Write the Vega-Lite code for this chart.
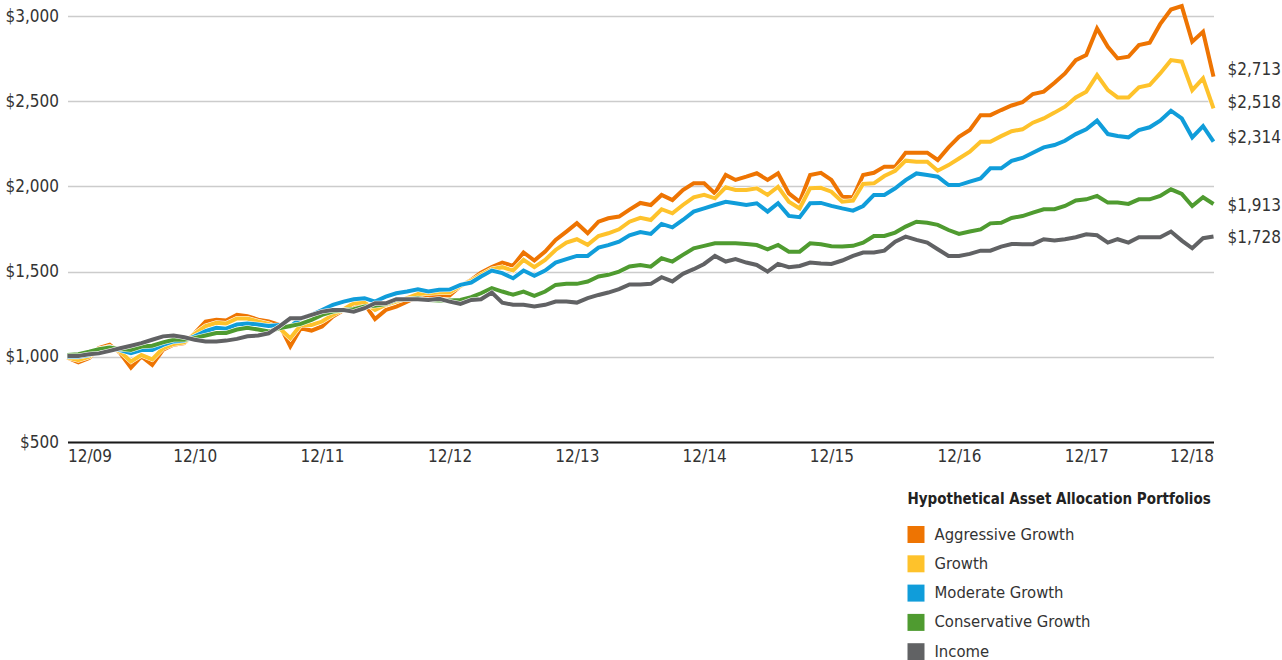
{
  "$schema": "https://vega.github.io/schema/vega-lite/v6.json",
  "width": 1146,
  "height": 426,
  "autosize": "none",
  "padding": {"left": 67.5, "top": 16, "right": 68, "bottom": 218},
  "background": "white",
  "config": {
    "view": {"stroke": null},
    "font": "DejaVu Sans Condensed"
  },
  "datasets": {
    "labels": [
      {"date": "2018/12/01", "series": "Aggressive Growth", "label": "$2,713", "value": 2713},
      {"date": "2018/12/01", "series": "Growth", "label": "$2,518", "value": 2518},
      {"date": "2018/12/01", "series": "Moderate Growth", "label": "$2,314", "value": 2314},
      {"date": "2018/12/01", "series": "Conservative Growth", "label": "$1,913", "value": 1913},
      {"date": "2018/12/01", "series": "Income", "label": "$1,728", "value": 1728}
    ],
    "lines": [
      {"date":"2009/12/01","series":"Aggressive Growth","value":995},
      {"date":"2010/01/01","series":"Aggressive Growth","value":967},
      {"date":"2010/02/01","series":"Aggressive Growth","value":992},
      {"date":"2010/03/01","series":"Aggressive Growth","value":1051},
      {"date":"2010/04/01","series":"Aggressive Growth","value":1071},
      {"date":"2010/05/01","series":"Aggressive Growth","value":1022},
      {"date":"2010/06/01","series":"Aggressive Growth","value":936},
      {"date":"2010/07/01","series":"Aggressive Growth","value":1002},
      {"date":"2010/08/01","series":"Aggressive Growth","value":953},
      {"date":"2010/09/01","series":"Aggressive Growth","value":1041},
      {"date":"2010/10/01","series":"Aggressive Growth","value":1071},
      {"date":"2010/11/01","series":"Aggressive Growth","value":1080},
      {"date":"2010/12/01","series":"Aggressive Growth","value":1139},
      {"date":"2011/01/01","series":"Aggressive Growth","value":1207},
      {"date":"2011/02/01","series":"Aggressive Growth","value":1217},
      {"date":"2011/03/01","series":"Aggressive Growth","value":1213},
      {"date":"2011/04/01","series":"Aggressive Growth","value":1246},
      {"date":"2011/05/01","series":"Aggressive Growth","value":1238},
      {"date":"2011/06/01","series":"Aggressive Growth","value":1218},
      {"date":"2011/07/01","series":"Aggressive Growth","value":1207},
      {"date":"2011/08/01","series":"Aggressive Growth","value":1187},
      {"date":"2011/09/01","series":"Aggressive Growth","value":1062},
      {"date":"2011/10/01","series":"Aggressive Growth","value":1168},
      {"date":"2011/11/01","series":"Aggressive Growth","value":1154},
      {"date":"2011/12/01","series":"Aggressive Growth","value":1178},
      {"date":"2012/01/01","series":"Aggressive Growth","value":1236},
      {"date":"2012/02/01","series":"Aggressive Growth","value":1275},
      {"date":"2012/03/01","series":"Aggressive Growth","value":1305},
      {"date":"2012/04/01","series":"Aggressive Growth","value":1310},
      {"date":"2012/05/01","series":"Aggressive Growth","value":1221},
      {"date":"2012/06/01","series":"Aggressive Growth","value":1275},
      {"date":"2012/07/01","series":"Aggressive Growth","value":1295},
      {"date":"2012/08/01","series":"Aggressive Growth","value":1324},
      {"date":"2012/09/01","series":"Aggressive Growth","value":1353},
      {"date":"2012/10/01","series":"Aggressive Growth","value":1353},
      {"date":"2012/11/01","series":"Aggressive Growth","value":1363},
      {"date":"2012/12/01","series":"Aggressive Growth","value":1360},
      {"date":"2013/01/01","series":"Aggressive Growth","value":1416},
      {"date":"2013/02/01","series":"Aggressive Growth","value":1451},
      {"date":"2013/03/01","series":"Aggressive Growth","value":1494},
      {"date":"2013/04/01","series":"Aggressive Growth","value":1526},
      {"date":"2013/05/01","series":"Aggressive Growth","value":1553},
      {"date":"2013/06/01","series":"Aggressive Growth","value":1534},
      {"date":"2013/07/01","series":"Aggressive Growth","value":1612},
      {"date":"2013/08/01","series":"Aggressive Growth","value":1565},
      {"date":"2013/09/01","series":"Aggressive Growth","value":1618},
      {"date":"2013/10/01","series":"Aggressive Growth","value":1686},
      {"date":"2013/11/01","series":"Aggressive Growth","value":1735},
      {"date":"2013/12/01","series":"Aggressive Growth","value":1784},
      {"date":"2014/01/01","series":"Aggressive Growth","value":1725},
      {"date":"2014/02/01","series":"Aggressive Growth","value":1793},
      {"date":"2014/03/01","series":"Aggressive Growth","value":1813},
      {"date":"2014/04/01","series":"Aggressive Growth","value":1823},
      {"date":"2014/05/01","series":"Aggressive Growth","value":1864},
      {"date":"2014/06/01","series":"Aggressive Growth","value":1903},
      {"date":"2014/07/01","series":"Aggressive Growth","value":1891},
      {"date":"2014/08/01","series":"Aggressive Growth","value":1950},
      {"date":"2014/09/01","series":"Aggressive Growth","value":1920},
      {"date":"2014/10/01","series":"Aggressive Growth","value":1979},
      {"date":"2014/11/01","series":"Aggressive Growth","value":2018},
      {"date":"2014/12/01","series":"Aggressive Growth","value":2018},
      {"date":"2015/01/01","series":"Aggressive Growth","value":1959},
      {"date":"2015/02/01","series":"Aggressive Growth","value":2067},
      {"date":"2015/03/01","series":"Aggressive Growth","value":2038},
      {"date":"2015/04/01","series":"Aggressive Growth","value":2057},
      {"date":"2015/05/01","series":"Aggressive Growth","value":2077},
      {"date":"2015/06/01","series":"Aggressive Growth","value":2038},
      {"date":"2015/07/01","series":"Aggressive Growth","value":2077},
      {"date":"2015/08/01","series":"Aggressive Growth","value":1959},
      {"date":"2015/09/01","series":"Aggressive Growth","value":1910},
      {"date":"2015/10/01","series":"Aggressive Growth","value":2067},
      {"date":"2015/11/01","series":"Aggressive Growth","value":2080},
      {"date":"2015/12/01","series":"Aggressive Growth","value":2038},
      {"date":"2016/01/01","series":"Aggressive Growth","value":1940},
      {"date":"2016/02/01","series":"Aggressive Growth","value":1936},
      {"date":"2016/03/01","series":"Aggressive Growth","value":2067},
      {"date":"2016/04/01","series":"Aggressive Growth","value":2080},
      {"date":"2016/05/01","series":"Aggressive Growth","value":2116},
      {"date":"2016/06/01","series":"Aggressive Growth","value":2116},
      {"date":"2016/07/01","series":"Aggressive Growth","value":2198},
      {"date":"2016/08/01","series":"Aggressive Growth","value":2198},
      {"date":"2016/09/01","series":"Aggressive Growth","value":2198},
      {"date":"2016/10/01","series":"Aggressive Growth","value":2155},
      {"date":"2016/11/01","series":"Aggressive Growth","value":2229},
      {"date":"2016/12/01","series":"Aggressive Growth","value":2291},
      {"date":"2017/01/01","series":"Aggressive Growth","value":2331},
      {"date":"2017/02/01","series":"Aggressive Growth","value":2418},
      {"date":"2017/03/01","series":"Aggressive Growth","value":2418},
      {"date":"2017/04/01","series":"Aggressive Growth","value":2448},
      {"date":"2017/05/01","series":"Aggressive Growth","value":2475},
      {"date":"2017/06/01","series":"Aggressive Growth","value":2494},
      {"date":"2017/07/01","series":"Aggressive Growth","value":2542},
      {"date":"2017/08/01","series":"Aggressive Growth","value":2556},
      {"date":"2017/09/01","series":"Aggressive Growth","value":2608},
      {"date":"2017/10/01","series":"Aggressive Growth","value":2663},
      {"date":"2017/11/01","series":"Aggressive Growth","value":2741},
      {"date":"2017/12/01","series":"Aggressive Growth","value":2771},
      {"date":"2018/01/01","series":"Aggressive Growth","value":2927},
      {"date":"2018/02/01","series":"Aggressive Growth","value":2819},
      {"date":"2018/03/01","series":"Aggressive Growth","value":2751},
      {"date":"2018/04/01","series":"Aggressive Growth","value":2761},
      {"date":"2018/05/01","series":"Aggressive Growth","value":2829},
      {"date":"2018/06/01","series":"Aggressive Growth","value":2843},
      {"date":"2018/07/01","series":"Aggressive Growth","value":2952},
      {"date":"2018/08/01","series":"Aggressive Growth","value":3038},
      {"date":"2018/09/01","series":"Aggressive Growth","value":3058},
      {"date":"2018/10/01","series":"Aggressive Growth","value":2849},
      {"date":"2018/11/01","series":"Aggressive Growth","value":2907},
      {"date":"2018/12/01","series":"Aggressive Growth","value":2644},

      {"date":"2009/12/01","series":"Growth","value":995},
      {"date":"2010/01/01","series":"Growth","value":980},
      {"date":"2010/02/01","series":"Growth","value":1000},
      {"date":"2010/03/01","series":"Growth","value":1045},
      {"date":"2010/04/01","series":"Growth","value":1060},
      {"date":"2010/05/01","series":"Growth","value":1030},
      {"date":"2010/06/01","series":"Growth","value":973},
      {"date":"2010/07/01","series":"Growth","value":1010},
      {"date":"2010/08/01","series":"Growth","value":985},
      {"date":"2010/09/01","series":"Growth","value":1050},
      {"date":"2010/10/01","series":"Growth","value":1075},
      {"date":"2010/11/01","series":"Growth","value":1085},
      {"date":"2010/12/01","series":"Growth","value":1135},
      {"date":"2011/01/01","series":"Growth","value":1180},
      {"date":"2011/02/01","series":"Growth","value":1200},
      {"date":"2011/03/01","series":"Growth","value":1195},
      {"date":"2011/04/01","series":"Growth","value":1225},
      {"date":"2011/05/01","series":"Growth","value":1225},
      {"date":"2011/06/01","series":"Growth","value":1207},
      {"date":"2011/07/01","series":"Growth","value":1193},
      {"date":"2011/08/01","series":"Growth","value":1168},
      {"date":"2011/09/01","series":"Growth","value":1109},
      {"date":"2011/10/01","series":"Growth","value":1187},
      {"date":"2011/11/01","series":"Growth","value":1187},
      {"date":"2011/12/01","series":"Growth","value":1207},
      {"date":"2012/01/01","series":"Growth","value":1246},
      {"date":"2012/02/01","series":"Growth","value":1279},
      {"date":"2012/03/01","series":"Growth","value":1314},
      {"date":"2012/04/01","series":"Growth","value":1318},
      {"date":"2012/05/01","series":"Growth","value":1275},
      {"date":"2012/06/01","series":"Growth","value":1305},
      {"date":"2012/07/01","series":"Growth","value":1324},
      {"date":"2012/08/01","series":"Growth","value":1344},
      {"date":"2012/09/01","series":"Growth","value":1369},
      {"date":"2012/10/01","series":"Growth","value":1373},
      {"date":"2012/11/01","series":"Growth","value":1377},
      {"date":"2012/12/01","series":"Growth","value":1377},
      {"date":"2013/01/01","series":"Growth","value":1416},
      {"date":"2013/02/01","series":"Growth","value":1447},
      {"date":"2013/03/01","series":"Growth","value":1481},
      {"date":"2013/04/01","series":"Growth","value":1514},
      {"date":"2013/05/01","series":"Growth","value":1526},
      {"date":"2013/06/01","series":"Growth","value":1506},
      {"date":"2013/07/01","series":"Growth","value":1569},
      {"date":"2013/08/01","series":"Growth","value":1526},
      {"date":"2013/09/01","series":"Growth","value":1569},
      {"date":"2013/10/01","series":"Growth","value":1627},
      {"date":"2013/11/01","series":"Growth","value":1670},
      {"date":"2013/12/01","series":"Growth","value":1690},
      {"date":"2014/01/01","series":"Growth","value":1657},
      {"date":"2014/02/01","series":"Growth","value":1709},
      {"date":"2014/03/01","series":"Growth","value":1725},
      {"date":"2014/04/01","series":"Growth","value":1748},
      {"date":"2014/05/01","series":"Growth","value":1793},
      {"date":"2014/06/01","series":"Growth","value":1816},
      {"date":"2014/07/01","series":"Growth","value":1803},
      {"date":"2014/08/01","series":"Growth","value":1866},
      {"date":"2014/09/01","series":"Growth","value":1842},
      {"date":"2014/10/01","series":"Growth","value":1891},
      {"date":"2014/11/01","series":"Growth","value":1936},
      {"date":"2014/12/01","series":"Growth","value":1950},
      {"date":"2015/01/01","series":"Growth","value":1930},
      {"date":"2015/02/01","series":"Growth","value":1995},
      {"date":"2015/03/01","series":"Growth","value":1979},
      {"date":"2015/04/01","series":"Growth","value":1979},
      {"date":"2015/05/01","series":"Growth","value":1989},
      {"date":"2015/06/01","series":"Growth","value":1950},
      {"date":"2015/07/01","series":"Growth","value":1998},
      {"date":"2015/08/01","series":"Growth","value":1910},
      {"date":"2015/09/01","series":"Growth","value":1871},
      {"date":"2015/10/01","series":"Growth","value":1989},
      {"date":"2015/11/01","series":"Growth","value":1992},
      {"date":"2015/12/01","series":"Growth","value":1969},
      {"date":"2016/01/01","series":"Growth","value":1910},
      {"date":"2016/02/01","series":"Growth","value":1916},
      {"date":"2016/03/01","series":"Growth","value":2014},
      {"date":"2016/04/01","series":"Growth","value":2018},
      {"date":"2016/05/01","series":"Growth","value":2061},
      {"date":"2016/06/01","series":"Growth","value":2092},
      {"date":"2016/07/01","series":"Growth","value":2151},
      {"date":"2016/08/01","series":"Growth","value":2145},
      {"date":"2016/09/01","series":"Growth","value":2145},
      {"date":"2016/10/01","series":"Growth","value":2092},
      {"date":"2016/11/01","series":"Growth","value":2125},
      {"date":"2016/12/01","series":"Growth","value":2164},
      {"date":"2017/01/01","series":"Growth","value":2204},
      {"date":"2017/02/01","series":"Growth","value":2262},
      {"date":"2017/03/01","series":"Growth","value":2262},
      {"date":"2017/04/01","series":"Growth","value":2295},
      {"date":"2017/05/01","series":"Growth","value":2324},
      {"date":"2017/06/01","series":"Growth","value":2335},
      {"date":"2017/07/01","series":"Growth","value":2374},
      {"date":"2017/08/01","series":"Growth","value":2399},
      {"date":"2017/09/01","series":"Growth","value":2433},
      {"date":"2017/10/01","series":"Growth","value":2468},
      {"date":"2017/11/01","series":"Growth","value":2522},
      {"date":"2017/12/01","series":"Growth","value":2556},
      {"date":"2018/01/01","series":"Growth","value":2653},
      {"date":"2018/02/01","series":"Growth","value":2565},
      {"date":"2018/03/01","series":"Growth","value":2522},
      {"date":"2018/04/01","series":"Growth","value":2522},
      {"date":"2018/05/01","series":"Growth","value":2581},
      {"date":"2018/06/01","series":"Growth","value":2595},
      {"date":"2018/07/01","series":"Growth","value":2663},
      {"date":"2018/08/01","series":"Growth","value":2741},
      {"date":"2018/09/01","series":"Growth","value":2732},
      {"date":"2018/10/01","series":"Growth","value":2565},
      {"date":"2018/11/01","series":"Growth","value":2634},
      {"date":"2018/12/01","series":"Growth","value":2458},

      {"date":"2009/12/01","series":"Moderate Growth","value":1000},
      {"date":"2010/01/01","series":"Moderate Growth","value":1000},
      {"date":"2010/02/01","series":"Moderate Growth","value":1010},
      {"date":"2010/03/01","series":"Moderate Growth","value":1040},
      {"date":"2010/04/01","series":"Moderate Growth","value":1055},
      {"date":"2010/05/01","series":"Moderate Growth","value":1040},
      {"date":"2010/06/01","series":"Moderate Growth","value":1022},
      {"date":"2010/07/01","series":"Moderate Growth","value":1040},
      {"date":"2010/08/01","series":"Moderate Growth","value":1040},
      {"date":"2010/09/01","series":"Moderate Growth","value":1070},
      {"date":"2010/10/01","series":"Moderate Growth","value":1090},
      {"date":"2010/11/01","series":"Moderate Growth","value":1095},
      {"date":"2010/12/01","series":"Moderate Growth","value":1120},
      {"date":"2011/01/01","series":"Moderate Growth","value":1150},
      {"date":"2011/02/01","series":"Moderate Growth","value":1170},
      {"date":"2011/03/01","series":"Moderate Growth","value":1165},
      {"date":"2011/04/01","series":"Moderate Growth","value":1190},
      {"date":"2011/05/01","series":"Moderate Growth","value":1195},
      {"date":"2011/06/01","series":"Moderate Growth","value":1190},
      {"date":"2011/07/01","series":"Moderate Growth","value":1181},
      {"date":"2011/08/01","series":"Moderate Growth","value":1187},
      {"date":"2011/09/01","series":"Moderate Growth","value":1178},
      {"date":"2011/10/01","series":"Moderate Growth","value":1226},
      {"date":"2011/11/01","series":"Moderate Growth","value":1246},
      {"date":"2011/12/01","series":"Moderate Growth","value":1275},
      {"date":"2012/01/01","series":"Moderate Growth","value":1305},
      {"date":"2012/02/01","series":"Moderate Growth","value":1324},
      {"date":"2012/03/01","series":"Moderate Growth","value":1338},
      {"date":"2012/04/01","series":"Moderate Growth","value":1344},
      {"date":"2012/05/01","series":"Moderate Growth","value":1324},
      {"date":"2012/06/01","series":"Moderate Growth","value":1353},
      {"date":"2012/07/01","series":"Moderate Growth","value":1373},
      {"date":"2012/08/01","series":"Moderate Growth","value":1383},
      {"date":"2012/09/01","series":"Moderate Growth","value":1396},
      {"date":"2012/10/01","series":"Moderate Growth","value":1383},
      {"date":"2012/11/01","series":"Moderate Growth","value":1393},
      {"date":"2012/12/01","series":"Moderate Growth","value":1395},
      {"date":"2013/01/01","series":"Moderate Growth","value":1422},
      {"date":"2013/02/01","series":"Moderate Growth","value":1436},
      {"date":"2013/03/01","series":"Moderate Growth","value":1471},
      {"date":"2013/04/01","series":"Moderate Growth","value":1506},
      {"date":"2013/05/01","series":"Moderate Growth","value":1491},
      {"date":"2013/06/01","series":"Moderate Growth","value":1461},
      {"date":"2013/07/01","series":"Moderate Growth","value":1506},
      {"date":"2013/08/01","series":"Moderate Growth","value":1475},
      {"date":"2013/09/01","series":"Moderate Growth","value":1506},
      {"date":"2013/10/01","series":"Moderate Growth","value":1553},
      {"date":"2013/11/01","series":"Moderate Growth","value":1573},
      {"date":"2013/12/01","series":"Moderate Growth","value":1592},
      {"date":"2014/01/01","series":"Moderate Growth","value":1592},
      {"date":"2014/02/01","series":"Moderate Growth","value":1641},
      {"date":"2014/03/01","series":"Moderate Growth","value":1655},
      {"date":"2014/04/01","series":"Moderate Growth","value":1676},
      {"date":"2014/05/01","series":"Moderate Growth","value":1713},
      {"date":"2014/06/01","series":"Moderate Growth","value":1732},
      {"date":"2014/07/01","series":"Moderate Growth","value":1721},
      {"date":"2014/08/01","series":"Moderate Growth","value":1780},
      {"date":"2014/09/01","series":"Moderate Growth","value":1760},
      {"date":"2014/10/01","series":"Moderate Growth","value":1803},
      {"date":"2014/11/01","series":"Moderate Growth","value":1852},
      {"date":"2014/12/01","series":"Moderate Growth","value":1871},
      {"date":"2015/01/01","series":"Moderate Growth","value":1891},
      {"date":"2015/02/01","series":"Moderate Growth","value":1910},
      {"date":"2015/03/01","series":"Moderate Growth","value":1901},
      {"date":"2015/04/01","series":"Moderate Growth","value":1891},
      {"date":"2015/05/01","series":"Moderate Growth","value":1901},
      {"date":"2015/06/01","series":"Moderate Growth","value":1852},
      {"date":"2015/07/01","series":"Moderate Growth","value":1901},
      {"date":"2015/08/01","series":"Moderate Growth","value":1827},
      {"date":"2015/09/01","series":"Moderate Growth","value":1819},
      {"date":"2015/10/01","series":"Moderate Growth","value":1901},
      {"date":"2015/11/01","series":"Moderate Growth","value":1903},
      {"date":"2015/12/01","series":"Moderate Growth","value":1886},
      {"date":"2016/01/01","series":"Moderate Growth","value":1871},
      {"date":"2016/02/01","series":"Moderate Growth","value":1858},
      {"date":"2016/03/01","series":"Moderate Growth","value":1885},
      {"date":"2016/04/01","series":"Moderate Growth","value":1950},
      {"date":"2016/05/01","series":"Moderate Growth","value":1950},
      {"date":"2016/06/01","series":"Moderate Growth","value":1989},
      {"date":"2016/07/01","series":"Moderate Growth","value":2037},
      {"date":"2016/08/01","series":"Moderate Growth","value":2076},
      {"date":"2016/09/01","series":"Moderate Growth","value":2067},
      {"date":"2016/10/01","series":"Moderate Growth","value":2057},
      {"date":"2016/11/01","series":"Moderate Growth","value":2008},
      {"date":"2016/12/01","series":"Moderate Growth","value":2008},
      {"date":"2017/01/01","series":"Moderate Growth","value":2028},
      {"date":"2017/02/01","series":"Moderate Growth","value":2047},
      {"date":"2017/03/01","series":"Moderate Growth","value":2106},
      {"date":"2017/04/01","series":"Moderate Growth","value":2106},
      {"date":"2017/05/01","series":"Moderate Growth","value":2150},
      {"date":"2017/06/01","series":"Moderate Growth","value":2167},
      {"date":"2017/07/01","series":"Moderate Growth","value":2198},
      {"date":"2017/08/01","series":"Moderate Growth","value":2229},
      {"date":"2017/09/01","series":"Moderate Growth","value":2243},
      {"date":"2017/10/01","series":"Moderate Growth","value":2268},
      {"date":"2017/11/01","series":"Moderate Growth","value":2307},
      {"date":"2017/12/01","series":"Moderate Growth","value":2335},
      {"date":"2018/01/01","series":"Moderate Growth","value":2386},
      {"date":"2018/02/01","series":"Moderate Growth","value":2307},
      {"date":"2018/03/01","series":"Moderate Growth","value":2296},
      {"date":"2018/04/01","series":"Moderate Growth","value":2288},
      {"date":"2018/05/01","series":"Moderate Growth","value":2331},
      {"date":"2018/06/01","series":"Moderate Growth","value":2347},
      {"date":"2018/07/01","series":"Moderate Growth","value":2386},
      {"date":"2018/08/01","series":"Moderate Growth","value":2444},
      {"date":"2018/09/01","series":"Moderate Growth","value":2399},
      {"date":"2018/10/01","series":"Moderate Growth","value":2288},
      {"date":"2018/11/01","series":"Moderate Growth","value":2354},
      {"date":"2018/12/01","series":"Moderate Growth","value":2263},

      {"date":"2009/12/01","series":"Conservative Growth","value":1010},
      {"date":"2010/01/01","series":"Conservative Growth","value":1015},
      {"date":"2010/02/01","series":"Conservative Growth","value":1030},
      {"date":"2010/03/01","series":"Conservative Growth","value":1045},
      {"date":"2010/04/01","series":"Conservative Growth","value":1055},
      {"date":"2010/05/01","series":"Conservative Growth","value":1045},
      {"date":"2010/06/01","series":"Conservative Growth","value":1040},
      {"date":"2010/07/01","series":"Conservative Growth","value":1060},
      {"date":"2010/08/01","series":"Conservative Growth","value":1065},
      {"date":"2010/09/01","series":"Conservative Growth","value":1085},
      {"date":"2010/10/01","series":"Conservative Growth","value":1100},
      {"date":"2010/11/01","series":"Conservative Growth","value":1100},
      {"date":"2010/12/01","series":"Conservative Growth","value":1110},
      {"date":"2011/01/01","series":"Conservative Growth","value":1125},
      {"date":"2011/02/01","series":"Conservative Growth","value":1140},
      {"date":"2011/03/01","series":"Conservative Growth","value":1140},
      {"date":"2011/04/01","series":"Conservative Growth","value":1160},
      {"date":"2011/05/01","series":"Conservative Growth","value":1170},
      {"date":"2011/06/01","series":"Conservative Growth","value":1160},
      {"date":"2011/07/01","series":"Conservative Growth","value":1148},
      {"date":"2011/08/01","series":"Conservative Growth","value":1168},
      {"date":"2011/09/01","series":"Conservative Growth","value":1181},
      {"date":"2011/10/01","series":"Conservative Growth","value":1193},
      {"date":"2011/11/01","series":"Conservative Growth","value":1217},
      {"date":"2011/12/01","series":"Conservative Growth","value":1246},
      {"date":"2012/01/01","series":"Conservative Growth","value":1265},
      {"date":"2012/02/01","series":"Conservative Growth","value":1275},
      {"date":"2012/03/01","series":"Conservative Growth","value":1279},
      {"date":"2012/04/01","series":"Conservative Growth","value":1295},
      {"date":"2012/05/01","series":"Conservative Growth","value":1299},
      {"date":"2012/06/01","series":"Conservative Growth","value":1310},
      {"date":"2012/07/01","series":"Conservative Growth","value":1334},
      {"date":"2012/08/01","series":"Conservative Growth","value":1338},
      {"date":"2012/09/01","series":"Conservative Growth","value":1344},
      {"date":"2012/10/01","series":"Conservative Growth","value":1334},
      {"date":"2012/11/01","series":"Conservative Growth","value":1330},
      {"date":"2012/12/01","series":"Conservative Growth","value":1330},
      {"date":"2013/01/01","series":"Conservative Growth","value":1334},
      {"date":"2013/02/01","series":"Conservative Growth","value":1350},
      {"date":"2013/03/01","series":"Conservative Growth","value":1373},
      {"date":"2013/04/01","series":"Conservative Growth","value":1403},
      {"date":"2013/05/01","series":"Conservative Growth","value":1383},
      {"date":"2013/06/01","series":"Conservative Growth","value":1364},
      {"date":"2013/07/01","series":"Conservative Growth","value":1383},
      {"date":"2013/08/01","series":"Conservative Growth","value":1358},
      {"date":"2013/09/01","series":"Conservative Growth","value":1383},
      {"date":"2013/10/01","series":"Conservative Growth","value":1422},
      {"date":"2013/11/01","series":"Conservative Growth","value":1428},
      {"date":"2013/12/01","series":"Conservative Growth","value":1428},
      {"date":"2014/01/01","series":"Conservative Growth","value":1442},
      {"date":"2014/02/01","series":"Conservative Growth","value":1471},
      {"date":"2014/03/01","series":"Conservative Growth","value":1481},
      {"date":"2014/04/01","series":"Conservative Growth","value":1500},
      {"date":"2014/05/01","series":"Conservative Growth","value":1530},
      {"date":"2014/06/01","series":"Conservative Growth","value":1539},
      {"date":"2014/07/01","series":"Conservative Growth","value":1529},
      {"date":"2014/08/01","series":"Conservative Growth","value":1578},
      {"date":"2014/09/01","series":"Conservative Growth","value":1559},
      {"date":"2014/10/01","series":"Conservative Growth","value":1598},
      {"date":"2014/11/01","series":"Conservative Growth","value":1637},
      {"date":"2014/12/01","series":"Conservative Growth","value":1651},
      {"date":"2015/01/01","series":"Conservative Growth","value":1666},
      {"date":"2015/02/01","series":"Conservative Growth","value":1666},
      {"date":"2015/03/01","series":"Conservative Growth","value":1666},
      {"date":"2015/04/01","series":"Conservative Growth","value":1662},
      {"date":"2015/05/01","series":"Conservative Growth","value":1656},
      {"date":"2015/06/01","series":"Conservative Growth","value":1631},
      {"date":"2015/07/01","series":"Conservative Growth","value":1656},
      {"date":"2015/08/01","series":"Conservative Growth","value":1617},
      {"date":"2015/09/01","series":"Conservative Growth","value":1617},
      {"date":"2015/10/01","series":"Conservative Growth","value":1666},
      {"date":"2015/11/01","series":"Conservative Growth","value":1660},
      {"date":"2015/12/01","series":"Conservative Growth","value":1649},
      {"date":"2016/01/01","series":"Conservative Growth","value":1647},
      {"date":"2016/02/01","series":"Conservative Growth","value":1651},
      {"date":"2016/03/01","series":"Conservative Growth","value":1670},
      {"date":"2016/04/01","series":"Conservative Growth","value":1709},
      {"date":"2016/05/01","series":"Conservative Growth","value":1709},
      {"date":"2016/06/01","series":"Conservative Growth","value":1729},
      {"date":"2016/07/01","series":"Conservative Growth","value":1764},
      {"date":"2016/08/01","series":"Conservative Growth","value":1793},
      {"date":"2016/09/01","series":"Conservative Growth","value":1787},
      {"date":"2016/10/01","series":"Conservative Growth","value":1774},
      {"date":"2016/11/01","series":"Conservative Growth","value":1744},
      {"date":"2016/12/01","series":"Conservative Growth","value":1721},
      {"date":"2017/01/01","series":"Conservative Growth","value":1735},
      {"date":"2017/02/01","series":"Conservative Growth","value":1748},
      {"date":"2017/03/01","series":"Conservative Growth","value":1783},
      {"date":"2017/04/01","series":"Conservative Growth","value":1787},
      {"date":"2017/05/01","series":"Conservative Growth","value":1815},
      {"date":"2017/06/01","series":"Conservative Growth","value":1826},
      {"date":"2017/07/01","series":"Conservative Growth","value":1846},
      {"date":"2017/08/01","series":"Conservative Growth","value":1866},
      {"date":"2017/09/01","series":"Conservative Growth","value":1866},
      {"date":"2017/10/01","series":"Conservative Growth","value":1885},
      {"date":"2017/11/01","series":"Conservative Growth","value":1917},
      {"date":"2017/12/01","series":"Conservative Growth","value":1924},
      {"date":"2018/01/01","series":"Conservative Growth","value":1944},
      {"date":"2018/02/01","series":"Conservative Growth","value":1905},
      {"date":"2018/03/01","series":"Conservative Growth","value":1905},
      {"date":"2018/04/01","series":"Conservative Growth","value":1897},
      {"date":"2018/05/01","series":"Conservative Growth","value":1924},
      {"date":"2018/06/01","series":"Conservative Growth","value":1924},
      {"date":"2018/07/01","series":"Conservative Growth","value":1944},
      {"date":"2018/08/01","series":"Conservative Growth","value":1983},
      {"date":"2018/09/01","series":"Conservative Growth","value":1956},
      {"date":"2018/10/01","series":"Conservative Growth","value":1885},
      {"date":"2018/11/01","series":"Conservative Growth","value":1936},
      {"date":"2018/12/01","series":"Conservative Growth","value":1897},

      {"date":"2009/12/01","series":"Income","value":1005},
      {"date":"2010/01/01","series":"Income","value":1005},
      {"date":"2010/02/01","series":"Income","value":1015},
      {"date":"2010/03/01","series":"Income","value":1020},
      {"date":"2010/04/01","series":"Income","value":1035},
      {"date":"2010/05/01","series":"Income","value":1050},
      {"date":"2010/06/01","series":"Income","value":1065},
      {"date":"2010/07/01","series":"Income","value":1080},
      {"date":"2010/08/01","series":"Income","value":1100},
      {"date":"2010/09/01","series":"Income","value":1120},
      {"date":"2010/10/01","series":"Income","value":1125},
      {"date":"2010/11/01","series":"Income","value":1115},
      {"date":"2010/12/01","series":"Income","value":1100},
      {"date":"2011/01/01","series":"Income","value":1090},
      {"date":"2011/02/01","series":"Income","value":1090},
      {"date":"2011/03/01","series":"Income","value":1095},
      {"date":"2011/04/01","series":"Income","value":1105},
      {"date":"2011/05/01","series":"Income","value":1120},
      {"date":"2011/06/01","series":"Income","value":1125},
      {"date":"2011/07/01","series":"Income","value":1138},
      {"date":"2011/08/01","series":"Income","value":1178},
      {"date":"2011/09/01","series":"Income","value":1226},
      {"date":"2011/10/01","series":"Income","value":1226},
      {"date":"2011/11/01","series":"Income","value":1246},
      {"date":"2011/12/01","series":"Income","value":1265},
      {"date":"2012/01/01","series":"Income","value":1275},
      {"date":"2012/02/01","series":"Income","value":1275},
      {"date":"2012/03/01","series":"Income","value":1265},
      {"date":"2012/04/01","series":"Income","value":1285},
      {"date":"2012/05/01","series":"Income","value":1314},
      {"date":"2012/06/01","series":"Income","value":1314},
      {"date":"2012/07/01","series":"Income","value":1338},
      {"date":"2012/08/01","series":"Income","value":1338},
      {"date":"2012/09/01","series":"Income","value":1338},
      {"date":"2012/10/01","series":"Income","value":1334},
      {"date":"2012/11/01","series":"Income","value":1340},
      {"date":"2012/12/01","series":"Income","value":1324},
      {"date":"2013/01/01","series":"Income","value":1311},
      {"date":"2013/02/01","series":"Income","value":1334},
      {"date":"2013/03/01","series":"Income","value":1338},
      {"date":"2013/04/01","series":"Income","value":1377},
      {"date":"2013/05/01","series":"Income","value":1318},
      {"date":"2013/06/01","series":"Income","value":1305},
      {"date":"2013/07/01","series":"Income","value":1305},
      {"date":"2013/08/01","series":"Income","value":1295},
      {"date":"2013/09/01","series":"Income","value":1305},
      {"date":"2013/10/01","series":"Income","value":1324},
      {"date":"2013/11/01","series":"Income","value":1324},
      {"date":"2013/12/01","series":"Income","value":1318},
      {"date":"2014/01/01","series":"Income","value":1344},
      {"date":"2014/02/01","series":"Income","value":1363},
      {"date":"2014/03/01","series":"Income","value":1377},
      {"date":"2014/04/01","series":"Income","value":1397},
      {"date":"2014/05/01","series":"Income","value":1425},
      {"date":"2014/06/01","series":"Income","value":1425},
      {"date":"2014/07/01","series":"Income","value":1428},
      {"date":"2014/08/01","series":"Income","value":1467},
      {"date":"2014/09/01","series":"Income","value":1442},
      {"date":"2014/10/01","series":"Income","value":1487},
      {"date":"2014/11/01","series":"Income","value":1514},
      {"date":"2014/12/01","series":"Income","value":1545},
      {"date":"2015/01/01","series":"Income","value":1592},
      {"date":"2015/02/01","series":"Income","value":1559},
      {"date":"2015/03/01","series":"Income","value":1573},
      {"date":"2015/04/01","series":"Income","value":1553},
      {"date":"2015/05/01","series":"Income","value":1539},
      {"date":"2015/06/01","series":"Income","value":1500},
      {"date":"2015/07/01","series":"Income","value":1545},
      {"date":"2015/08/01","series":"Income","value":1526},
      {"date":"2015/09/01","series":"Income","value":1533},
      {"date":"2015/10/01","series":"Income","value":1553},
      {"date":"2015/11/01","series":"Income","value":1547},
      {"date":"2015/12/01","series":"Income","value":1545},
      {"date":"2016/01/01","series":"Income","value":1565},
      {"date":"2016/02/01","series":"Income","value":1592},
      {"date":"2016/03/01","series":"Income","value":1612},
      {"date":"2016/04/01","series":"Income","value":1612},
      {"date":"2016/05/01","series":"Income","value":1623},
      {"date":"2016/06/01","series":"Income","value":1676},
      {"date":"2016/07/01","series":"Income","value":1705},
      {"date":"2016/08/01","series":"Income","value":1686},
      {"date":"2016/09/01","series":"Income","value":1670},
      {"date":"2016/10/01","series":"Income","value":1631},
      {"date":"2016/11/01","series":"Income","value":1592},
      {"date":"2016/12/01","series":"Income","value":1592},
      {"date":"2017/01/01","series":"Income","value":1604},
      {"date":"2017/02/01","series":"Income","value":1623},
      {"date":"2017/03/01","series":"Income","value":1623},
      {"date":"2017/04/01","series":"Income","value":1647},
      {"date":"2017/05/01","series":"Income","value":1662},
      {"date":"2017/06/01","series":"Income","value":1661},
      {"date":"2017/07/01","series":"Income","value":1661},
      {"date":"2017/08/01","series":"Income","value":1690},
      {"date":"2017/09/01","series":"Income","value":1682},
      {"date":"2017/10/01","series":"Income","value":1690},
      {"date":"2017/11/01","series":"Income","value":1702},
      {"date":"2017/12/01","series":"Income","value":1719},
      {"date":"2018/01/01","series":"Income","value":1713},
      {"date":"2018/02/01","series":"Income","value":1670},
      {"date":"2018/03/01","series":"Income","value":1690},
      {"date":"2018/04/01","series":"Income","value":1670},
      {"date":"2018/05/01","series":"Income","value":1702},
      {"date":"2018/06/01","series":"Income","value":1702},
      {"date":"2018/07/01","series":"Income","value":1702},
      {"date":"2018/08/01","series":"Income","value":1735},
      {"date":"2018/09/01","series":"Income","value":1682},
      {"date":"2018/10/01","series":"Income","value":1637},
      {"date":"2018/11/01","series":"Income","value":1696},
      {"date":"2018/12/01","series":"Income","value":1706}
    ]
  },
  "data": {"name": "lines"},
  "encoding": {
    "x": {
      "field": "date",
      "type": "temporal",
      "scale": {
        "domain": [{"year": 2009, "month": 12, "date": 1}, {"year": 2018, "month": 12, "date": 1}],
        "nice": false
      },
      "axis": {
        "title": null,
        "values": [
          {"year": 2009, "month": 12, "date": 1},
          {"year": 2010, "month": 12, "date": 1},
          {"year": 2011, "month": 12, "date": 1},
          {"year": 2012, "month": 12, "date": 1},
          {"year": 2013, "month": 12, "date": 1},
          {"year": 2014, "month": 12, "date": 1},
          {"year": 2015, "month": 12, "date": 1},
          {"year": 2016, "month": 12, "date": 1},
          {"year": 2017, "month": 12, "date": 1},
          {"year": 2018, "month": 12, "date": 1}
        ],
        "format": "%m/%y",
        "grid": false,
        "ticks": false,
        "domain": true,
        "domainColor": "#1a1a1a",
        "domainWidth": 2,
        "labelPadding": 6,
        "labelFlush": true,
        "labelOverlap": false,
        "labelFont": "DejaVu Sans Condensed",
        "labelFontSize": 17,
        "labelColor": "#333333"
      }
    },
    "y": {
      "field": "value",
      "type": "quantitative",
      "scale": {"domain": [500, 3000], "nice": false, "zero": false},
      "axis": {
        "title": null,
        "values": [500, 1000, 1500, 2000, 2500, 3000],
        "format": "$,.0f",
        "grid": true,
        "gridColor": "#cccccc",
        "gridWidth": 1.5,
        "domain": false,
        "ticks": false,
        "labelPadding": 9,
        "labelFont": "DejaVu Sans Condensed",
        "labelFontSize": 17,
        "labelColor": "#333333"
      }
    }
  },
  "layer": [
    {
      "transform": [{"filter": "datum.series === 'Aggressive Growth'"}],
      "mark": {"type": "line", "strokeWidth": 4},
      "encoding": {
        "color": {
          "field": "series",
          "type": "nominal",
          "scale": {
            "domain": ["Aggressive Growth", "Growth", "Moderate Growth", "Conservative Growth", "Income"],
            "range": ["#EE7402", "#FEC22B", "#109DDA", "#4F9B30", "#616264"]
          },
          "legend": {
            "title": "Hypothetical Asset Allocation Portfolios",
            "orient": "none",
            "legendX": 840,
            "legendY": 476,
            "padding": 0,
            "titleFont": "DejaVu Sans Condensed",
            "titleFontSize": 15,
            "titleFontWeight": "bold",
            "titleColor": "#222222",
            "titlePadding": 19,
            "titleLimit": 500,
            "labelFont": "DejaVu Sans Condensed",
            "labelFontSize": 16.5,
            "labelColor": "#333333",
            "labelOffset": 10,
            "labelLimit": 300,
            "symbolType": "square",
            "symbolSize": 289,
            "symbolStrokeWidth": 0,
            "rowPadding": 12.3,
            "encode": {
              "symbols": {
                "update": {
                  "fill": {"scale": "color", "field": "value"},
                  "opacity": {"value": 1}
                }
              }
            }
          }
        }
      }
    },
    {
      "transform": [{"filter": "datum.series === 'Growth'"}],
      "mark": {"type": "line", "strokeWidth": 5, "color": "white"}
    },
    {
      "transform": [{"filter": "datum.series === 'Growth'"}],
      "mark": {"type": "line", "strokeWidth": 4},
      "encoding": {
        "color": {
          "field": "series",
          "type": "nominal",
          "scale": {
            "domain": ["Aggressive Growth", "Growth", "Moderate Growth", "Conservative Growth", "Income"],
            "range": ["#EE7402", "#FEC22B", "#109DDA", "#4F9B30", "#616264"]
          }
        }
      }
    },
    {
      "transform": [{"filter": "datum.series === 'Moderate Growth'"}],
      "mark": {"type": "line", "strokeWidth": 5, "color": "white"}
    },
    {
      "transform": [{"filter": "datum.series === 'Moderate Growth'"}],
      "mark": {"type": "line", "strokeWidth": 4},
      "encoding": {
        "color": {
          "field": "series",
          "type": "nominal",
          "scale": {
            "domain": ["Aggressive Growth", "Growth", "Moderate Growth", "Conservative Growth", "Income"],
            "range": ["#EE7402", "#FEC22B", "#109DDA", "#4F9B30", "#616264"]
          }
        }
      }
    },
    {
      "transform": [{"filter": "datum.series === 'Conservative Growth'"}],
      "mark": {"type": "line", "strokeWidth": 5, "color": "white"}
    },
    {
      "transform": [{"filter": "datum.series === 'Conservative Growth'"}],
      "mark": {"type": "line", "strokeWidth": 4},
      "encoding": {
        "color": {
          "field": "series",
          "type": "nominal",
          "scale": {
            "domain": ["Aggressive Growth", "Growth", "Moderate Growth", "Conservative Growth", "Income"],
            "range": ["#EE7402", "#FEC22B", "#109DDA", "#4F9B30", "#616264"]
          }
        }
      }
    },
    {
      "transform": [{"filter": "datum.series === 'Income'"}],
      "mark": {"type": "line", "strokeWidth": 5, "color": "white"}
    },
    {
      "transform": [{"filter": "datum.series === 'Income'"}],
      "mark": {"type": "line", "strokeWidth": 4},
      "encoding": {
        "color": {
          "field": "series",
          "type": "nominal",
          "scale": {
            "domain": ["Aggressive Growth", "Growth", "Moderate Growth", "Conservative Growth", "Income"],
            "range": ["#EE7402", "#FEC22B", "#109DDA", "#4F9B30", "#616264"]
          }
        }
      }
    },
    {
      "data": {"name": "labels"},
      "mark": {
        "type": "text",
        "align": "left",
        "baseline": "middle",
        "dx": 14,
        "dy": 5,
        "fontSize": 17,
        "font": "DejaVu Sans Condensed",
        "color": "#333333"
      },
      "encoding": {
        "text": {"field": "label"}
      }
    }
  ]
}
